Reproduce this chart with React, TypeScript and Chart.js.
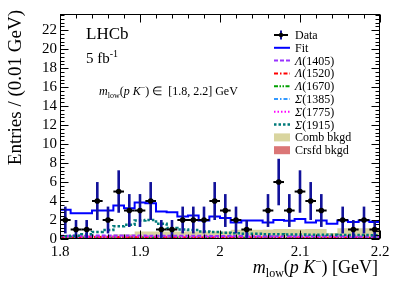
import React, { useEffect, useRef } from 'react';
import { Chart, registerables } from 'chart.js';
Chart.register(...registerables);

// ---------- data ----------
const binEdges = [
  1.8, 1.8133, 1.8267, 1.84, 1.8533, 1.8667, 1.88, 1.8933, 1.9067, 1.92, 1.9333,
  1.9467, 1.96, 1.9733, 1.9867, 2.0, 2.0133, 2.0267, 2.04, 2.0533, 2.0667,
  2.08, 2.0933, 2.1067, 2.12, 2.1333, 2.1467, 2.16, 2.1733, 2.1867, 2.2,
];
const dataCounts = [2, 1, 1, 4, 2, 5, 3, 3, 4, 1, 1, 2, 2, 2, 4, 3, 2, 1, 0, 3, 6, 3, 5, 4, 3, 0, 2, 1, 2, 1];
const fitValues = [
  3.07, 2.72, 2.72, 3.0, 3.0, 3.52, 3.24, 3.84, 3.77, 2.9, 2.83, 2.37, 2.47, 1.95, 2.37,
  2.2, 1.74, 1.95, 1.95, 1.74, 2.0, 1.92, 2.1, 1.74, 1.95, 1.6, 1.95, 1.78, 1.95, 1.78,
];
const combBkgd = [
  0.38, 0.38, 0.37, 0.38, 0.39, 0.5, 0.5, 0.78, 0.78, 0.79, 0.78, 0.8, 0.78, 0.79, 0.78,
  0.8, 0.97, 0.98, 0.97, 1.0, 1.05, 1.05, 1.04, 1.06, 1.05, 0.62, 1.12, 1.13, 1.12, 1.12,
];
const crsfdBkgd = [
  0.06, 0.06, 0.05, 0.06, 0.06, 0.06, 0.05, 0.06, 0.06, 0.05, 0.06, 0.06, 0.05, 0.06, 0.06,
  0.05, 0.06, 0.06, 0.05, 0.06, 0.06, 0.05, 0.06, 0.06, 0.05, 0.06, 0.06, 0.05, 0.06, 0.06,
];
const lam1405 = [
  0.33, 0.34, 0.35, 0.36, 0.36, 0.37, 0.36, 0.36, 0.35, 0.35, 0.34, 0.34, 0.33, 0.33, 0.32,
  0.32, 0.31, 0.31, 0.3, 0.3, 0.3, 0.29, 0.29, 0.29, 0.28, 0.28, 0.28, 0.27, 0.27, 0.27,
];
const lam1520 = [
  0.2, 0.22, 0.24, 0.22, 0.2, 0.19, 0.18, 0.18, 0.17, 0.17, 0.17, 0.16, 0.16, 0.16, 0.16,
  0.15, 0.15, 0.15, 0.15, 0.15, 0.14, 0.14, 0.14, 0.14, 0.14, 0.14, 0.13, 0.13, 0.13, 0.13,
];
const lam1670 = [
  0.14, 0.15, 0.15, 0.16, 0.17, 0.18, 0.18, 0.17, 0.16, 0.15, 0.15, 0.14, 0.14, 0.13, 0.13,
  0.13, 0.12, 0.12, 0.12, 0.12, 0.11, 0.11, 0.11, 0.11, 0.11, 0.1, 0.1, 0.1, 0.1, 0.1,
];
const sig1385 = [
  0.1, 0.1, 0.1, 0.09, 0.09, 0.09, 0.09, 0.08, 0.08, 0.08, 0.08, 0.08, 0.08, 0.07, 0.07,
  0.07, 0.07, 0.07, 0.07, 0.07, 0.06, 0.06, 0.06, 0.06, 0.06, 0.06, 0.06, 0.06, 0.06, 0.06,
];
const sig1775 = [
  0.24, 0.24, 0.25, 0.25, 0.25, 0.26, 0.26, 0.26, 0.26, 0.26, 0.26, 0.25, 0.25, 0.25, 0.25,
  0.25, 0.25, 0.24, 0.24, 0.24, 0.24, 0.24, 0.23, 0.23, 0.23, 0.23, 0.23, 0.22, 0.22, 0.22,
];
const sig1915 = [
  0.3, 0.35, 0.5, 0.75, 0.95, 1.35, 1.5, 1.95, 2.0, 1.6, 1.15, 1.0, 0.95, 0.8, 0.75,
  0.65, 0.6, 0.55, 0.55, 0.5, 0.5, 0.48, 0.47, 0.46, 0.45, 0.44, 0.43, 0.42, 0.41, 0.4,
];
const xTickLabels = [1.8, 1.9, 2.0, 2.1, 2.2];
const yTickLabels = [0, 2, 4, 6, 8, 10, 12, 14, 16, 18, 20, 22];

// ---------- styling ----------
const SERIF = '"Liberation Serif", "Times New Roman", serif';
const C_PURPLE = '#9933ff';
const C_RED = '#ff0000';
const C_GREEN = '#00a000';
const C_DBLUE = '#3399ff';
const C_MAGENTA = '#ff00ff';
const C_TEAL = '#007a7a';
const C_COMB = '#d9d59f';
const C_CRSFD = '#db7676';
const C_NAVY = '#12129a';

function histPoints(vals: number[]) {
  return binEdges.map((e, i) => ({ x: e, y: vals[Math.min(i, vals.length - 1)] }));
}
const centers = dataCounts.map((c, i) => ({ x: (binEdges[i] + binEdges[i + 1]) / 2, y: c }));

type Run = { t: string; size: number; italic?: boolean; dy?: number };
function fontOf(r: Run) {
  return `${r.italic ? 'italic ' : ''}${r.size}px ${SERIF}`;
}
function drawRuns(ctx: CanvasRenderingContext2D, runs: Run[], x: number, y: number, align: 'left' | 'right' = 'left') {
  ctx.textAlign = 'left';
  ctx.textBaseline = 'alphabetic';
  const widths = runs.map((r) => {
    ctx.font = fontOf(r);
    return ctx.measureText(r.t).width;
  });
  const total = widths.reduce((a, b) => a + b, 0);
  let cx = align === 'right' ? x - total : x;
  runs.forEach((r, i) => {
    ctx.font = fontOf(r);
    ctx.fillText(r.t, cx, y + (r.dy || 0));
    cx += widths[i];
  });
}

const errorBarPlugin = {
  id: 'errorBars',
  beforeDatasetDraw(chart: any, args: any) {
    if (args.index !== 0) return;
    const { ctx, chartArea: a, scales } = chart;
    const xs = scales.x, ys = scales.y;
    ctx.save();
    ctx.beginPath();
    ctx.rect(a.left, a.top, a.right - a.left, a.bottom - a.top);
    ctx.clip();
    dataCounts.forEach((c, i) => {
      if (c <= 0) return;
      const err = Math.sqrt(c);
      const px = xs.getPixelForValue(centers[i].x);
      ctx.strokeStyle = C_NAVY;
      ctx.lineWidth = 2.6;
      ctx.beginPath();
      ctx.moveTo(px, ys.getPixelForValue(c + err));
      ctx.lineTo(px, ys.getPixelForValue(c - err));
      ctx.stroke();
      ctx.strokeStyle = '#000';
      ctx.lineWidth = 2;
      const py = ys.getPixelForValue(c);
      ctx.beginPath();
      ctx.moveTo(xs.getPixelForValue(binEdges[i]), py);
      ctx.lineTo(xs.getPixelForValue(binEdges[i + 1]), py);
      ctx.stroke();
    });
    ctx.restore();
  },
};

const frameTicksPlugin = {
  id: 'frameTicks',
  afterDatasetsDraw(chart: any) {
    const { ctx, chartArea: a, scales } = chart;
    const xs = scales.x, ys = scales.y;
    ctx.save();
    ctx.strokeStyle = '#000';
    ctx.lineWidth = 1;
    const L = Math.round(a.left) + 0.5, R = Math.round(a.right) - 0.5;
    const T = Math.round(a.top) + 0.5, B = Math.round(a.bottom) - 0.5;
    ctx.strokeRect(L, T, R - L, B - T);
    ctx.beginPath();
    // y ticks: major every 2, minor every 0.4
    for (let k = 0; k <= 59; k++) {
      const v = k * 0.4;
      if (v > ys.max) break;
      const py = Math.round(ys.getPixelForValue(v)) + 0.5;
      const len = k % 5 === 0 ? 8 : 4;
      ctx.moveTo(L, py); ctx.lineTo(L + len, py);
      ctx.moveTo(R, py); ctx.lineTo(R - len, py);
    }
    // x ticks: major every 0.1, minor every 0.02
    for (let k = 0; k <= 20; k++) {
      const v = 1.8 + k * 0.02;
      const px = Math.round(xs.getPixelForValue(v)) + 0.5;
      const len = k % 5 === 0 ? 8 : 4;
      ctx.moveTo(px, T); ctx.lineTo(px, T + len);
      ctx.moveTo(px, B); ctx.lineTo(px, B - len);
    }
    ctx.stroke();
    ctx.restore();
  },
};

type LegendRow = { runs: Run[]; kind: 'data' | 'line' | 'box'; color?: string; dash?: number[]; width?: number };
const legendRows: LegendRow[] = [
  { runs: [{ t: 'Data', size: 12 }], kind: 'data' },
  { runs: [{ t: 'Fit', size: 12 }], kind: 'line', color: '#0000ff', dash: [], width: 2 },
  { runs: [{ t: 'Λ', size: 12, italic: true }, { t: '(1405)', size: 12 }], kind: 'line', color: C_PURPLE, dash: [4, 2], width: 2 },
  { runs: [{ t: 'Λ', size: 12, italic: true }, { t: '(1520)', size: 12 }], kind: 'line', color: C_RED, dash: [4, 2, 1.5, 2], width: 2 },
  { runs: [{ t: 'Λ', size: 12, italic: true }, { t: '(1670)', size: 12 }], kind: 'line', color: C_GREEN, dash: [4, 1.5, 1.5, 1.5, 1.5, 1.5], width: 2 },
  { runs: [{ t: 'Σ', size: 12, italic: true }, { t: '(1385)', size: 12 }], kind: 'line', color: C_DBLUE, dash: [4, 2, 1.5, 2], width: 2 },
  { runs: [{ t: 'Σ', size: 12, italic: true }, { t: '(1775)', size: 12 }], kind: 'line', color: C_MAGENTA, dash: [1.5, 2], width: 2 },
  { runs: [{ t: 'Σ', size: 12, italic: true }, { t: '(1915)', size: 12 }], kind: 'line', color: C_TEAL, dash: [2.5, 2], width: 2.5 },
  { runs: [{ t: 'Comb bkgd', size: 12 }], kind: 'box', color: C_COMB },
  { runs: [{ t: 'Crsfd bkgd', size: 12 }], kind: 'box', color: C_CRSFD },
];

const textPlugin = {
  id: 'texts',
  afterDraw(chart: any) {
    const ctx: CanvasRenderingContext2D = chart.ctx;
    ctx.save();
    ctx.fillStyle = '#000';
    // y title
    ctx.save();
    ctx.translate(16, 10);
    ctx.rotate(-Math.PI / 2);
    ctx.font = `19px ${SERIF}`;
    ctx.textAlign = 'right';
    ctx.textBaseline = 'middle';
    ctx.fillText('Entries / (0.01 GeV)', 0, 0);
    ctx.restore();
    // x title
    drawRuns(ctx, [
      { t: 'm', size: 18, italic: true },
      { t: 'low', size: 12, dy: 4 },
      { t: '(', size: 18 },
      { t: 'p', size: 18, italic: true },
      { t: ' K', size: 18, italic: true },
      { t: '−', size: 11, dy: -8 },
      { t: ')', size: 18 },
      { t: ' [GeV]', size: 18 },
    ], 378, 273, 'right');
    // LHCb label
    drawRuns(ctx, [{ t: 'LHCb', size: 17 }], 86, 39);
    drawRuns(ctx, [{ t: '5 fb', size: 15 }, { t: '-1', size: 10, dy: -6 }], 86, 63);
    // annotation
    drawRuns(ctx, [
      { t: 'm', size: 12, italic: true },
      { t: 'low', size: 8, dy: 3 },
      { t: '(', size: 12 },
      { t: 'p K', size: 12, italic: true },
      { t: '−', size: 8, dy: -5 },
      { t: ')', size: 12 },
      { t: ' ∈  [1.8, 2.2] GeV', size: 12 },
    ], 99, 95);
    // legend
    const sx0 = 274, sx1 = 290, tx = 295;
    legendRows.forEach((row, i) => {
      const cy = 35 + i * 12.8;
      ctx.save();
      if (row.kind === 'data') {
        ctx.strokeStyle = '#000';
        ctx.lineWidth = 2;
        ctx.beginPath(); ctx.moveTo(sx0, cy); ctx.lineTo(sx1 - 2, cy); ctx.stroke();
        ctx.strokeStyle = C_NAVY;
        ctx.beginPath(); ctx.moveTo(281, cy - 4.5); ctx.lineTo(281, cy + 4.5); ctx.stroke();
        ctx.fillStyle = '#000';
        ctx.beginPath(); ctx.arc(281, cy, 2.2, 0, Math.PI * 2); ctx.fill();
      } else if (row.kind === 'line') {
        ctx.strokeStyle = row.color!;
        ctx.lineWidth = row.width || 2;
        ctx.setLineDash(row.dash || []);
        ctx.beginPath(); ctx.moveTo(sx0, cy); ctx.lineTo(sx1, cy); ctx.stroke();
      } else {
        ctx.fillStyle = row.color!;
        ctx.fillRect(sx0, cy - 4, sx1 - sx0, 8);
      }
      ctx.restore();
      ctx.fillStyle = '#000';
      drawRuns(ctx, row.runs, tx, cy + 4);
    });
    ctx.restore();
  },
};

function lineDS(label: string, vals: number[], color: string, dash: number[], width: number) {
  return {
    type: 'line' as const,
    label,
    data: histPoints(vals),
    stepped: true,
    borderColor: color,
    borderDash: dash,
    borderWidth: width,
    pointRadius: 0,
    fill: false,
  };
}

export default function App() {
  const ref = useRef<HTMLCanvasElement>(null);
  useEffect(() => {
    document.body.style.margin = '0';
    const canvas = ref.current!;
    const chart = new Chart(canvas, {
      type: 'line',
      data: {
        datasets: [
          {
            type: 'scatter',
            label: 'Data',
            data: centers,
            showLine: false,
            pointRadius: dataCounts.map((c) => (c > 0 ? 2.8 : 0)),
            pointBackgroundColor: '#000',
            pointBorderColor: '#000',
            pointBorderWidth: 0,
          } as any,
          lineDS('Fit', fitValues, '#0000ff', [], 2),
          lineDS('Σ(1915)', sig1915, C_TEAL, [2.5, 2], 2.5),
          lineDS('Λ(1405)', lam1405, C_PURPLE, [4, 2], 2),
          lineDS('Σ(1775)', sig1775, C_MAGENTA, [1.5, 2], 2),
          lineDS('Λ(1520)', lam1520, C_RED, [4, 2, 1.5, 2], 2),
          lineDS('Λ(1670)', lam1670, C_GREEN, [4, 1.5, 1.5, 1.5, 1.5, 1.5], 2),
          lineDS('Σ(1385)', sig1385, C_DBLUE, [4, 2, 1.5, 2], 2),
          {
            type: 'line',
            label: 'Crsfd bkgd',
            data: histPoints(crsfdBkgd),
            stepped: true,
            borderWidth: 0,
            pointRadius: 0,
            backgroundColor: C_CRSFD,
            fill: 'origin',
          } as any,
          {
            type: 'line',
            label: 'Comb bkgd',
            data: histPoints(combBkgd),
            stepped: true,
            borderWidth: 0,
            pointRadius: 0,
            backgroundColor: C_COMB,
            fill: 'origin',
          } as any,
        ],
      },
      options: {
        responsive: false,
        animation: false,
        maintainAspectRatio: false,
        layout: { padding: { top: 14, right: 19, left: 0, bottom: 0 } },
        plugins: { legend: { display: false }, tooltip: { enabled: false } },
        scales: {
          x: {
            type: 'linear',
            min: 1.8,
            max: 2.2,
            grid: { display: false, drawTicks: false },
            border: { display: false },
            ticks: {
              stepSize: 0.1,
              autoSkip: false,
              maxRotation: 0,
              padding: 4,
              color: '#000',
              font: { family: SERIF, size: 15 },
              callback: (v: any) => {
                const r = Math.round(Number(v) * 10) / 10;
                return xTickLabels.includes(r) ? String(r) : '';
              },
            },
            afterFit: (s: any) => { s.height = 47; },
          },
          y: {
            type: 'linear',
            min: 0,
            max: 23.7,
            grid: { display: false, drawTicks: false },
            border: { display: false },
            ticks: {
              stepSize: 2,
              includeBounds: false,
              autoSkip: false,
              padding: 3,
              color: '#000',
              font: { family: SERIF, size: 15 },
              callback: (v: any) => {
                const r = Math.round(Number(v));
                return yTickLabels.includes(r) ? String(r) : '';
              },
            },
            afterFit: (s: any) => { s.width = 60; },
          },
        },
      },
      plugins: [errorBarPlugin, frameTicksPlugin, textPlugin],
    });
    return () => chart.destroy();
  }, []);
  return (
    <div style={{ width: 399, height: 286 }}>
      <canvas ref={ref} width={399} height={286} style={{ display: 'block', width: 399, height: 286 }} />
    </div>
  );
}
